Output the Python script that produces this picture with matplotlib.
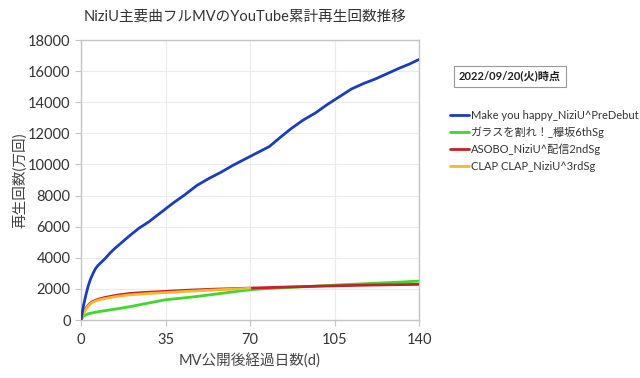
import matplotlib
matplotlib.use("Agg")
import matplotlib.pyplot as plt

plt.rcParams['font.family'] = ['Lato', 'Noto Sans CJK JP', 'DejaVu Sans']

title = "NiziU主要曲フルMVのYouTube累計再生回数推移"
xlabel = "MV公開後経過日数(d)"
ylabel = "再生回数(万回)"
note = "2022/09/20(火)時点"

blue_days = [0, 1, 2, 3, 4, 5, 6, 7, 8, 10, 12, 14, 17, 20, 24, 28, 33, 38, 43, 48, 53, 58,
             63, 68, 73, 78, 83, 87, 92, 97, 102, 107, 112, 117, 122, 127, 132, 136, 140]
blue_vals = [0, 900, 1600, 2200, 2650, 3000, 3300, 3500, 3650, 3950, 4300, 4600, 5000, 5400,
             5900, 6300, 6900, 7500, 8050, 8650, 9100, 9500, 9950, 10350, 10750, 11150, 11800,
             12300, 12850, 13300, 13850, 14350, 14850, 15200, 15500, 15850, 16200, 16450, 16750]

green_days = [0, 1, 3, 6, 10, 15, 20, 25, 30, 35, 40, 45, 50, 55, 60, 65, 70, 75, 80, 90,
              100, 110, 120, 130, 140]
green_vals = [0, 250, 400, 500, 600, 720, 850, 1000, 1150, 1300, 1380, 1460, 1550, 1650, 1750,
              1850, 1950, 2000, 2050, 2120, 2200, 2280, 2350, 2420, 2500]

red_days = [0, 1, 2, 3, 4, 5, 7, 10, 15, 20, 25, 30, 35, 45, 55, 70, 85, 100, 115, 130, 140]
red_vals = [0, 450, 750, 950, 1100, 1200, 1330, 1450, 1600, 1700, 1760, 1800, 1840, 1920,
            1980, 2050, 2120, 2180, 2230, 2270, 2290]

orange_days = [0, 1, 2, 3, 4, 5, 7, 10, 15, 20, 25, 30, 35, 45, 55, 65, 70]
orange_vals = [0, 400, 700, 900, 1050, 1150, 1280, 1380, 1520, 1610, 1670, 1720, 1760, 1850,
               1930, 2000, 2040]

series = [
    ("Make you happy_NiziU^PreDebut", blue_days, blue_vals, "#1c3db5"),
    ("ガラスを割れ！_欅坂6thSg", green_days, green_vals, "#3fd62e"),
    ("ASOBO_NiziU^配信2ndSg", red_days, red_vals, "#c42027"),
    ("CLAP CLAP_NiziU^3rdSg", orange_days, orange_vals, "#f4b731"),
]

fig = plt.figure(figsize=(6.4, 3.78), dpi=100)
ax = fig.add_axes([81/640, 1-320/378, 338/640, 280/378])

zorders = [4, 2, 3, 3.5]
for (name, d, v, c), z in zip(series, zorders):
    ax.plot(d, v, color=c, lw=2.0, label=name, zorder=z, solid_capstyle='round')

ax.set_xlim(0, 140)
ax.set_ylim(0, 18000)
ax.set_xticks([0, 35, 70, 105, 140])
ax.set_yticks(range(0, 18001, 2000))
ax.grid(True, color="#ebebeb", lw=0.8)
ax.set_axisbelow(True)
for s in ax.spines.values():
    s.set_color("#c4c4c4")
    s.set_linewidth(1.0)
ax.tick_params(axis='both', colors="#c4c4c4", labelcolor="#333333", labelsize=10.5,
               length=4, direction='out')
ax.tick_params(axis='x', pad=5)

ax.set_xlabel(xlabel, fontsize=10.5, color="#444444", labelpad=5)
ax.set_ylabel(ylabel, fontsize=10.5, color="#444444", labelpad=1)
fig.text(245/640, 1-17/378, title, ha='center', va='center', fontsize=10.5, color="#333333")

fig.text(510/640, 1-76/378, note, ha='center', va='center', fontsize=8, fontweight='bold',
         color="#222222",
         bbox=dict(boxstyle='square,pad=0.45', fc='white', ec='#999999', lw=0.8))

leg = fig.legend(loc='upper left', bbox_to_anchor=(440/640, 1-100/378), frameon=False,
                 fontsize=8, handlelength=1.7, handletextpad=0.15, labelspacing=0.5,
                 labelcolor="#333333")

fig.savefig("out.png", dpi=100)
